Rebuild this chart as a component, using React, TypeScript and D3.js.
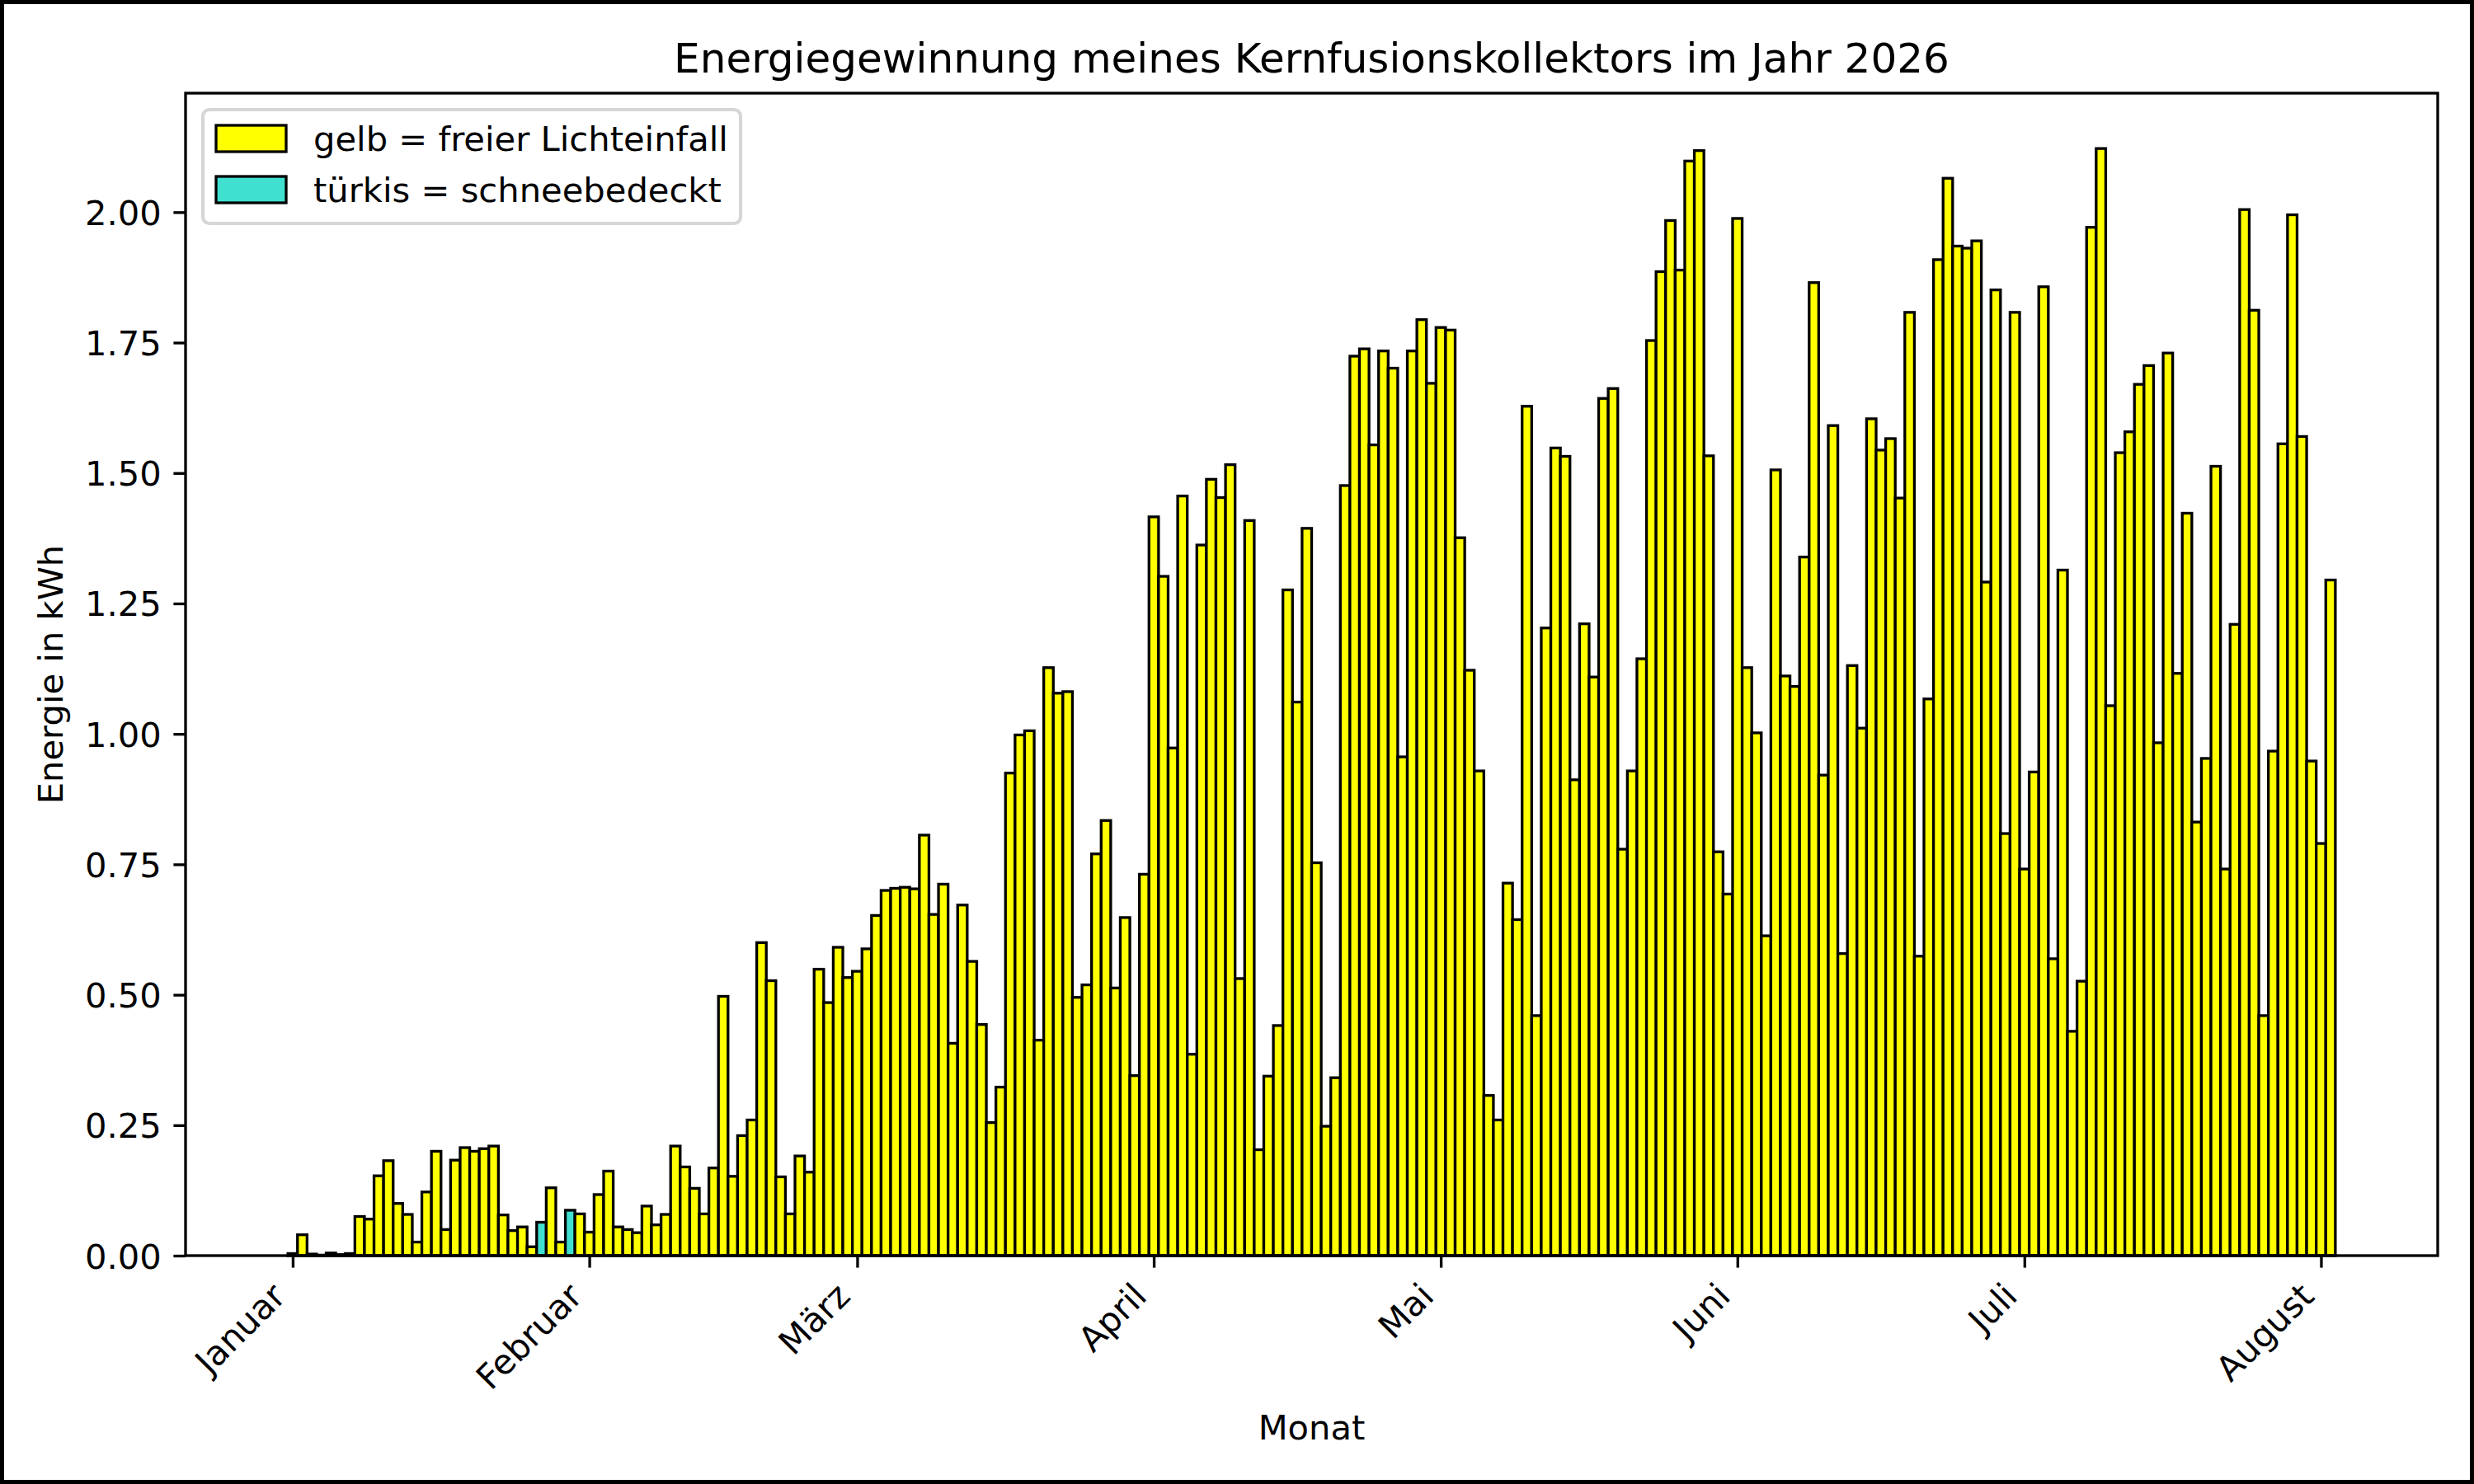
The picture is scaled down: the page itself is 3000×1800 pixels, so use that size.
import { Component } from 'react';
import * as React from 'react';
import * as d3 from 'd3';

// Tageswerte in kWh, je Monat ein Array (Index 0 = 1. des Monats)
const monate = ['Januar', 'Februar', 'März', 'April', 'Mai', 'Juni', 'Juli', 'August'];

const januar = [0.004, 0.04, 0.003, 0.001, 0.005, 0.002, 0.004, 0.075, 0.07, 0.153, 0.182, 0.10, 0.079, 0.026,
  0.122, 0.20, 0.05, 0.183, 0.207, 0.20, 0.205, 0.21, 0.078, 0.048, 0.055, 0.017, 0.064, 0.13, 0.026, 0.087, 0.08];
const februar = [0.045, 0.117, 0.162, 0.055, 0.05, 0.044, 0.095, 0.059, 0.079, 0.21, 0.17, 0.129, 0.08, 0.168,
  0.497, 0.152, 0.23, 0.26, 0.60, 0.527, 0.151, 0.08, 0.191, 0.16, 0.549, 0.485, 0.591, 0.533];
const maerz = [0.545, 0.588, 0.652, 0.70, 0.704, 0.706, 0.703, 0.806, 0.654, 0.712, 0.407, 0.672, 0.564, 0.443,
  0.255, 0.323, 0.925, 0.998, 1.006, 0.413, 1.127, 1.078, 1.081, 0.495, 0.519, 0.770, 0.834, 0.513, 0.648, 0.345, 0.731];
const april = [1.416, 1.302, 0.973, 1.456, 0.386, 1.362, 1.488, 1.453, 1.516, 0.531, 1.409, 0.203, 0.344, 0.441,
  1.276, 1.061, 1.394, 0.753, 0.248, 0.341, 1.476, 1.724, 1.738, 1.554, 1.734, 1.701, 0.956, 1.734, 1.794, 1.672];
const mai = [1.779, 1.774, 1.376, 1.122, 0.929, 0.307, 0.26, 0.714, 0.644, 1.628, 0.46, 1.203, 1.548, 1.532,
  0.912, 1.211, 1.109, 1.643, 1.662, 0.779, 0.929, 1.144, 1.754, 1.886, 1.984, 1.889, 2.098, 2.118, 1.533, 0.774, 0.693];
const juni = [1.988, 1.127, 1.002, 0.613, 1.506, 1.111, 1.091, 1.339, 1.865, 0.921, 1.591, 0.579, 1.131, 1.011,
  1.604, 1.544, 1.566, 1.452, 1.808, 0.574, 1.067, 1.909, 2.065, 1.935, 1.931, 1.945, 1.291, 1.851, 0.809, 1.808];
const juli = [0.741, 0.927, 1.857, 0.569, 1.314, 0.43, 0.526, 1.971, 2.122, 1.054, 1.539, 1.579, 1.67, 1.706,
  0.983, 1.73, 1.116, 1.423, 0.831, 0.953, 1.513, 0.741, 1.21, 2.005, 1.812, 0.46, 0.967, 1.556, 1.995, 1.57, 0.948];
const august = [0.79, 1.295];

// Tage mit Schnee auf dem Kollektor
const schneeTage = ['2026-01-27', '2026-01-30'];

const yTicks = [0, 0.25, 0.5, 0.75, 1.0, 1.25, 1.5, 1.75, 2.0];

const legende = [
  { farbe: '#ffff00', text: 'gelb = freier Lichteinfall' },
  { farbe: '#40e0d0', text: 'türkis = schneebedeckt' },
];

type Tag = { datum: Date; wert: number; schnee: boolean };

const DAY = 864e5;

export class EnergieChart extends Component<{}, {}> {
  node: SVGSVGElement | null = null;

  componentDidMount() {
    this.createChart();
  }
  componentDidUpdate() {
    this.createChart();
  }

  createChart() {
    if (!this.node) return;

    let width = 3000,
      height = 1800,
      left = 225,
      right = 2956,
      top = 113,
      bottom = 1523,
      fs = 41.67,
      tick = 14.6,
      font = '"DejaVu Sans", sans-serif';

    const tage: Tag[] = [];
    [januar, februar, maerz, april, mai, juni, juli, august].forEach((werte, m) => {
      werte.forEach((wert, i) => {
        const datum = new Date(Date.UTC(2026, m, i + 1));
        const iso = d3.utcFormat('%Y-%m-%d')(datum);
        tage.push({ datum, wert, schnee: schneeTage.includes(iso) });
      });
    });

    // wie matplotlib: 5% Rand um die Balken
    const first = tage[0].datum.getTime() - DAY / 2;
    const last = tage[tage.length - 1].datum.getTime() + DAY / 2;
    const pad = 0.05 * (last - first);
    const x = d3.scaleUtc()
      .domain([new Date(first - pad), new Date(last + pad)])
      .range([left, right]);
    const y = d3.scaleLinear()
      .domain([0, (d3.max(tage, d => d.wert) as number) * 1.05])
      .range([bottom, top]);

    const svg = d3.select(this.node);
    svg.selectAll('*').remove();
    svg.attr('width', width).attr('height', height);

    svg.append('rect')
      .attr('width', width).attr('height', height)
      .attr('fill', '#fff');

    // Balken
    svg.append('g')
      .selectAll('rect')
      .data(tage)
      .join('rect')
      .attr('x', d => x(new Date(d.datum.getTime() - DAY / 2)))
      .attr('width', d => x(new Date(d.datum.getTime() + DAY / 2)) - x(new Date(d.datum.getTime() - DAY / 2)))
      .attr('y', d => y(d.wert))
      .attr('height', d => y(0) - y(d.wert))
      .attr('fill', d => d.schnee ? '#40e0d0' : '#ffff00')
      .attr('stroke', '#000')
      .attr('stroke-width', 3.3);

    // Achsenrahmen
    svg.append('rect')
      .attr('x', left).attr('y', top)
      .attr('width', right - left).attr('height', bottom - top)
      .attr('fill', 'none')
      .attr('stroke', '#000')
      .attr('stroke-width', 3.33);

    // x-Achse
    const asc = 0.76 * fs, desc = 0.23 * fs;
    const xg = svg.append('g')
      .attr('transform', `translate(0,${bottom})`)
      .call(d3.axisBottom(x)
        .ticks(d3.utcMonth.every(1))
        .tickFormat(d => monate[(d as Date).getUTCMonth()])
        .tickSize(tick)
        .tickSizeOuter(0));
    xg.select('.domain').remove();
    xg.attr('font-family', font).attr('font-size', fs);
    xg.selectAll('line').attr('stroke-width', 3.33);
    xg.selectAll('text')
      .attr('x', 0).attr('y', 0).attr('dy', null)
      .attr('fill', '#000')
      .attr('text-anchor', 'end')
      .attr('transform', `translate(${-desc * Math.SQRT1_2},${tick * 2 + asc * Math.SQRT1_2}) rotate(-45)`);

    // y-Achse
    const yg = svg.append('g')
      .attr('transform', `translate(${left},0)`)
      .call(d3.axisLeft(y)
        .tickValues(yTicks)
        .tickFormat(d3.format('.2f'))
        .tickSize(tick)
        .tickPadding(tick)
        .tickSizeOuter(0));
    yg.select('.domain').remove();
    yg.attr('font-family', font).attr('font-size', fs);
    yg.selectAll('line').attr('stroke-width', 3.33);
    yg.selectAll('text').attr('fill', '#000').attr('dy', '0.36em');

    // Beschriftungen
    svg.append('text')
      .attr('x', (left + right) / 2).attr('y', top - 25)
      .attr('text-anchor', 'middle')
      .attr('font-family', font).attr('font-size', 50)
      .text('Energiegewinnung meines Kernfusionskollektors im Jahr 2026');

    svg.append('text')
      .attr('x', (left + right) / 2).attr('y', 1746)
      .attr('text-anchor', 'middle')
      .attr('font-family', font).attr('font-size', fs)
      .text('Monat');

    svg.append('text')
      .attr('transform', `translate(76,${(top + bottom) / 2}) rotate(-90)`)
      .attr('text-anchor', 'middle')
      .attr('font-family', font).attr('font-size', fs)
      .text('Energie in kWh');

    // Legende
    const lg = svg.append('g').attr('transform', `translate(${left + 21},${top + 20})`);
    lg.append('rect')
      .attr('width', 652).attr('height', 138)
      .attr('rx', 8)
      .attr('fill', '#fff').attr('fill-opacity', 0.8)
      .attr('stroke', '#d6d6d6').attr('stroke-width', 4.17);
    const eintrag = lg.selectAll('g.eintrag')
      .data(legende)
      .join('g')
      .attr('class', 'eintrag')
      .attr('transform', (d, i) => `translate(0,${i * 62})`);
    eintrag.append('rect')
      .attr('x', 16).attr('y', 19)
      .attr('width', 85).attr('height', 32)
      .attr('fill', d => d.farbe)
      .attr('stroke', '#000').attr('stroke-width', 3.3);
    eintrag.append('text')
      .attr('x', 134).attr('y', 50)
      .attr('font-family', font).attr('font-size', fs)
      .text(d => d.text);

    // Rahmen der Abbildung
    svg.append('rect')
      .attr('width', width).attr('height', height)
      .attr('fill', 'none')
      .attr('stroke', '#000')
      .attr('stroke-width', 10);
  }

  render() {
    return <svg ref={node => { this.node = node; }} style={{ position: 'absolute', left: 0, top: 0, display: 'block' }} />;
  }
}

export default function App() {
  return <EnergieChart />;
}
